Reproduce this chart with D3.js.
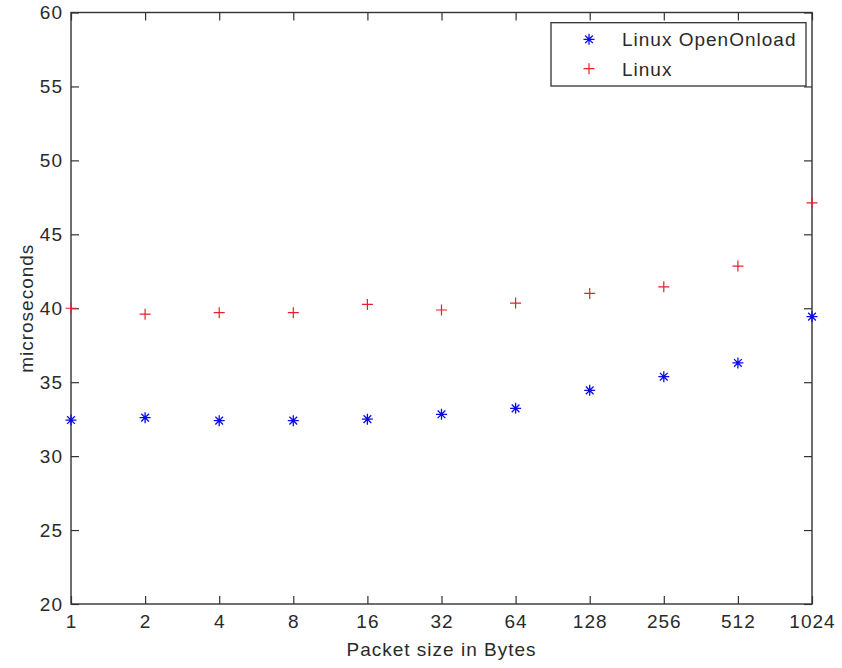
<!DOCTYPE html>
<html>
<head>
<meta charset="utf-8">
<script src="https://cdn.jsdelivr.net/npm/d3@7"></script>
<style>
  body { margin: 0; background: #fff; }
  svg text { font-family: "Liberation Sans", Arial, sans-serif; letter-spacing: 1px; fill: #2a2a2a; }
</style>
</head>
<body>
<div id="chart"></div>
<script>
// packet sizes (categorical axis)
var packetSizes = ["1", "2", "4", "8", "16", "32", "64", "128", "256", "512", "1024"];
// latency in microseconds
var openOnload = [32.44, 32.6, 32.4, 32.4, 32.5, 32.83, 33.23, 34.45, 35.37, 36.3, 39.43];
var linux      = [40.0, 39.6, 39.7, 39.7, 40.26, 39.88, 40.35, 41.0, 41.45, 42.85, 47.13];
var yTicks = [20, 25, 30, 35, 40, 45, 50, 55, 60];
var seriesNames = ["Linux OpenOnload", "Linux"];

var W = 842, H = 668;
var plot = { left: 71, right: 812, top: 12.5, bottom: 604 };
var blue = "#0a0af0", red = "#e8202a", axisColor = "#333";

var svg = d3.select("#chart").append("svg")
    .attr("width", W)
    .attr("height", H);

var x = d3.scalePoint()
    .domain(packetSizes)
    .range([plot.left, plot.right])
    .padding(0);

var y = d3.scaleLinear()
    .domain([20, 60])
    .range([plot.bottom, plot.top]);

/* 标记形状 */
function starPath(r) {
    var d = r * 0.7;
    return "M0," + (-r) + "V" + r + "M" + (-r) + ",0H" + r +
        "M" + (-d) + "," + (-d) + "L" + d + "," + d +
        "M" + (-d) + "," + d + "L" + d + "," + (-d);
}
function plusPath(r) {
    return "M0," + (-r) + "V" + r + "M" + (-r) + ",0H" + r;
}

/* 坐标轴 */
function styleAxis(g) {
    g.select(".domain").remove();
    g.selectAll("line").attr("stroke", axisColor).attr("stroke-width", 1.2);
    g.selectAll("text").style("font-size", "19px").attr("fill", "#2a2a2a");
}

svg.append("g")
    .attr("transform", "translate(0," + plot.bottom + ")")
    .call(d3.axisBottom(x).tickSizeInner(-8).tickSizeOuter(0).tickPadding(11))
    .call(styleAxis);

svg.append("g")
    .attr("transform", "translate(0," + plot.top + ")")
    .call(d3.axisTop(x).tickSizeInner(-8).tickSizeOuter(0).tickFormat(""))
    .call(styleAxis);

svg.append("g")
    .attr("transform", "translate(" + plot.left + ",0)")
    .call(d3.axisLeft(y).tickValues(yTicks).tickSizeInner(-8).tickSizeOuter(0).tickPadding(8))
    .call(styleAxis);

svg.append("g")
    .attr("transform", "translate(" + plot.right + ",0)")
    .call(d3.axisRight(y).tickValues(yTicks).tickSizeInner(-8).tickSizeOuter(0).tickFormat(""))
    .call(styleAxis);

/* 边框 */
svg.append("rect")
    .attr("x", plot.left)
    .attr("y", plot.top)
    .attr("width", plot.right - plot.left)
    .attr("height", plot.bottom - plot.top)
    .attr("fill", "none")
    .attr("stroke", axisColor)
    .attr("stroke-width", 1.4);

/* 数据点 */
svg.append("g").selectAll("path")
    .data(linux)
    .enter()
    .append("path")
    .attr("transform", function (d, i) { return "translate(" + x(packetSizes[i]) + "," + y(d) + ")"; })
    .attr("d", plusPath(5.5))
    .attr("fill", "none")
    .attr("stroke", red)
    .attr("stroke-width", 1.2);

svg.append("g").selectAll("path")
    .data(openOnload)
    .enter()
    .append("path")
    .attr("transform", function (d, i) { return "translate(" + x(packetSizes[i]) + "," + y(d) + ")"; })
    .attr("d", starPath(5.5))
    .attr("fill", "none")
    .attr("stroke", blue)
    .attr("stroke-width", 1.3);

/* 轴标题 */
svg.append("text")
    .attr("x", (plot.left + plot.right) / 2)
    .attr("y", 656)
    .attr("text-anchor", "middle")
    .style("font-size", "19px")
    .text("Packet size in Bytes");

svg.append("text")
    .attr("transform", "translate(33," + ((plot.top + plot.bottom) / 2) + ") rotate(-90)")
    .attr("text-anchor", "middle")
    .style("font-size", "19px")
    .text("microseconds");

/* 图例 */
var legend = svg.append("g");
legend.append("rect")
    .attr("x", 551)
    .attr("y", 22.7)
    .attr("width", 806 - 551)
    .attr("height", 86 - 22.7)
    .attr("fill", "#fff")
    .attr("stroke", axisColor)
    .attr("stroke-width", 1.3);

var rows = legend.selectAll("g.row")
    .data(seriesNames)
    .enter()
    .append("g")
    .attr("class", "row")
    .attr("transform", function (d, i) { return "translate(589," + (39.3 + i * 29.4) + ")"; });

rows.append("path")
    .attr("d", function (d, i) { return i === 0 ? starPath(5.5) : plusPath(5.5); })
    .attr("fill", "none")
    .attr("stroke", function (d, i) { return i === 0 ? blue : red; })
    .attr("stroke-width", function (d, i) { return i === 0 ? 1.3 : 1.2; });

rows.append("text")
    .attr("x", 33)
    .attr("y", 7)
    .style("font-size", "19px")
    .text(function (d) { return d; });
</script>
</body>
</html>
